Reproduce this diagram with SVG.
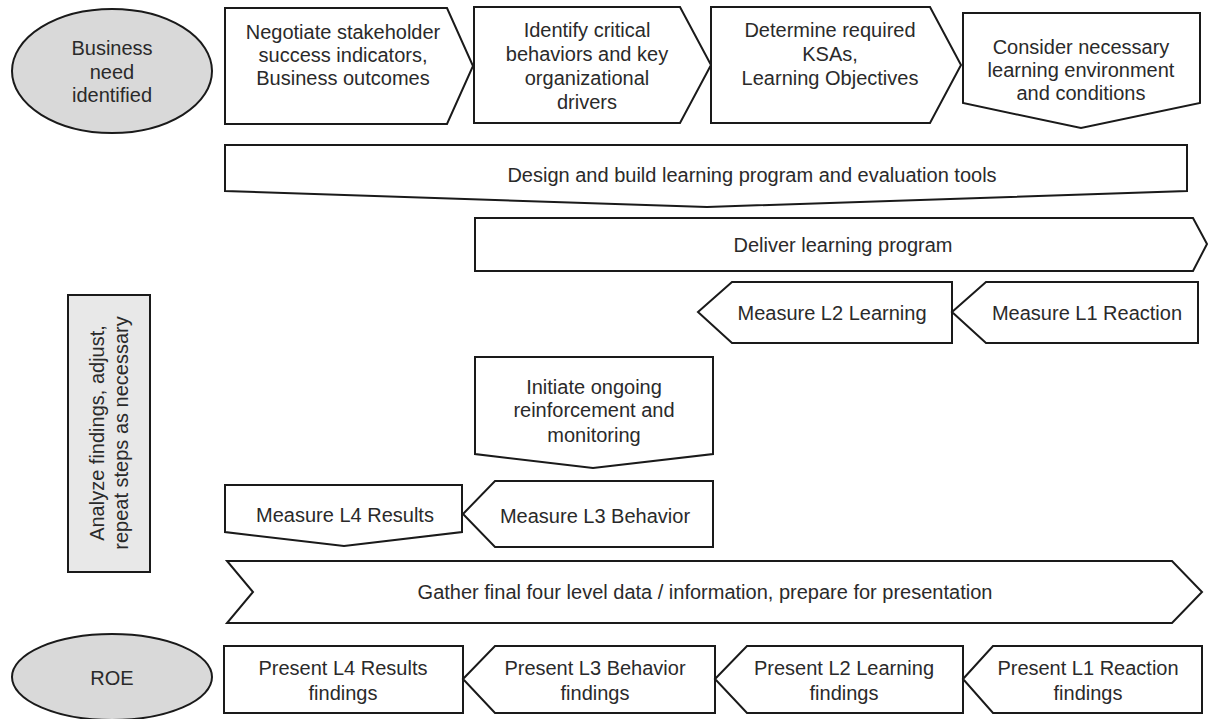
<svg xmlns="http://www.w3.org/2000/svg" width="1208" height="719" viewBox="0 0 1208 719">
<style>
.s{fill:#ffffff;stroke:#1a1a1a;stroke-width:2;stroke-linejoin:miter}
.g{fill:#d9d9d9;stroke:#1a1a1a;stroke-width:2}
.b{fill:#e8e8e8;stroke:#1a1a1a;stroke-width:2}
text{font-family:"Liberation Sans",Arial,sans-serif;font-size:20px;fill:#2a2a2a;text-anchor:middle}
</style>
<rect width="1208" height="719" fill="#ffffff"/>
<g id="connectors"></g>
<g id="business-need">
<ellipse class="g" cx="112" cy="71" rx="100" ry="62"/>
<text x="112" y="55">Business</text>
<text x="112" y="79">need</text>
<text x="112" y="102">identified</text>
</g>
<g id="negotiate">
<polygon class="s" points="225,8 447,8 473,66 447,124 225,124"/>
<text x="343" y="39">Negotiate stakeholder</text>
<text x="343" y="62">success indicators,</text>
<text x="343" y="85">Business outcomes</text>
</g>
<g id="identify">
<polygon class="s" points="474,7 680,7 711,65 680,123 474,123"/>
<text x="587" y="37">Identify critical</text>
<text x="587" y="61">behaviors and key</text>
<text x="587" y="85">organizational</text>
<text x="587" y="109">drivers</text>
</g>
<g id="determine">
<polygon class="s" points="711,7 930,7 961,65 930,123 711,123"/>
<text x="830" y="37">Determine required</text>
<text x="830" y="61">KSAs,</text>
<text x="830" y="85">Learning Objectives</text>
</g>
<g id="consider">
<polygon class="s" points="963,13 1200,13 1200,103 1081,128 963,103"/>
<text x="1081" y="54">Consider necessary</text>
<text x="1081" y="77">learning environment</text>
<text x="1081" y="100">and conditions</text>
</g>
<g id="design">
<polygon class="s" points="225,145 1187,145 1187,191 707,207 225,191"/>
<text x="752" y="182">Design and build learning program and evaluation tools</text>
</g>
<g id="deliver">
<polygon class="s" points="475,218 1193,218 1207,244 1193,271 475,271"/>
<text x="843" y="252">Deliver learning program</text>
</g>
<g id="measure-l2">
<polygon class="s" points="698,312 732,282 952,282 952,343 732,343"/>
<text x="832" y="320">Measure L2 Learning</text>
</g>
<g id="measure-l1">
<polygon class="s" points="952,312 986,282 1198,282 1198,343 986,343"/>
<text x="1087" y="320">Measure L1 Reaction</text>
</g>
<g id="analyze">
<rect class="b" x="68" y="295" width="82" height="277"/>
<text transform="translate(104,433) rotate(-90)">Analyze findings, adjust,</text>
<text transform="translate(128,433) rotate(-90)">repeat steps as necessary</text>
</g>
<g id="initiate">
<polygon class="s" points="475,357 713,357 713,454 593,468 475,454"/>
<text x="594" y="394">Initiate ongoing</text>
<text x="594" y="417">reinforcement and</text>
<text x="594" y="442">monitoring</text>
</g>
<g id="measure-l3">
<polygon class="s" points="463,514 495,481 713,481 713,547 495,547"/>
<text x="595" y="523">Measure L3 Behavior</text>
</g>
<g id="measure-l4">
<polygon class="s" points="225,485 462,485 462,532 344,546 225,532"/>
<text x="345" y="522">Measure L4 Results</text>
</g>
<g id="gather">
<polygon class="s" points="227,561 1172,561 1202,592 1172,623 227,623 253,592"/>
<text x="705" y="599">Gather final four level data / information, prepare for presentation</text>
</g>
<g id="roe">
<ellipse class="g" cx="112" cy="677" rx="100" ry="43"/>
<text x="112" y="685">ROE</text>
</g>
<g id="present-l4">
<rect class="s" x="224" y="646" width="239" height="67"/>
<text x="343" y="675">Present L4 Results</text>
<text x="343" y="700">findings</text>
</g>
<g id="present-l3">
<polygon class="s" points="463,679 495,646 715,646 715,713 495,713"/>
<text x="595" y="675">Present L3 Behavior</text>
<text x="595" y="700">findings</text>
</g>
<g id="present-l2">
<polygon class="s" points="715,679 747,646 963,646 963,713 747,713"/>
<text x="844" y="675">Present L2 Learning</text>
<text x="844" y="700">findings</text>
</g>
<g id="present-l1">
<polygon class="s" points="963,679 993,646 1202,646 1202,713 993,713"/>
<text x="1088" y="675">Present L1 Reaction</text>
<text x="1088" y="700">findings</text>
</g>
</svg>
